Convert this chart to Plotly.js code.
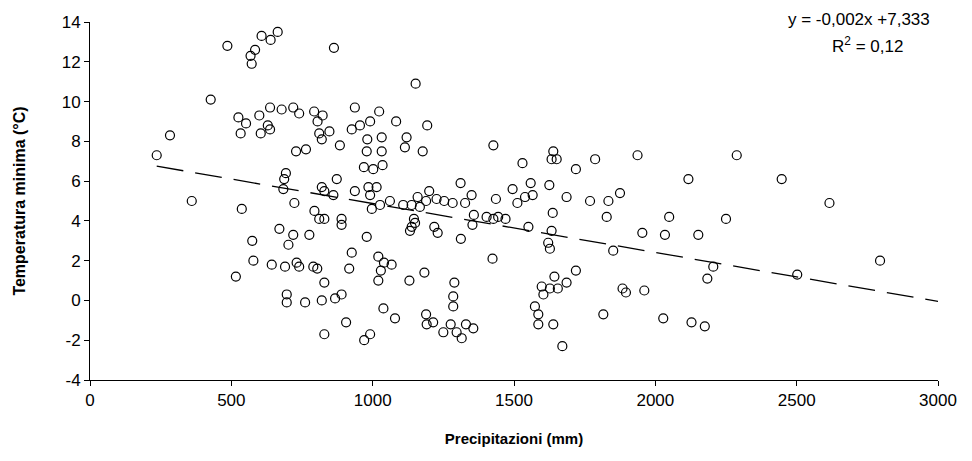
<!DOCTYPE html>
<html>
<head>
<meta charset="utf-8">
<script src="https://cdn.plot.ly/plotly-3.0.1.min.js"></script>
<style>html,body{margin:0;padding:0;background:#fff;}#chart{width:972px;height:461px;}</style>
</head>
<body>
<div id="chart"></div>
<script>
// Precipitazioni (mm)
const precip = [
 486,607,664,639,584,568,572,427,283,525,552,533,599,637,629,637,604,678,719,740,793,823,805,811,820,
 863,1152,937,1023,1083,1193,991,955,926,847,981,1032,1120,1427,884,
 236,360,537,729,764,693,687,684,723,820,829,794,811,829,670,719,776,702,574,578,643,690,731,740,790,804,
 516,829,696,696,761,820,829,
 979,1032,1114,1177,969,1002,1035,873,861,937,985,1014,991,1026,997,1061,1108,1138,1159,1200,1189,1167,1226,1253,1283,
 1311,1350,1327,1436,1495,1512,1530,1146,1150,1138,1132,1218,1230,1358,1353,1403,1427,1444,1470,890,890,1312,979,926,1020,1040,1067,1424,
 917,1029,1020,1130,1183,1289,1285,1285,867,890,1038,1079,906,991,970,1189,1214,1191,1276,1250,1297,1330,1356,1315,
 1639,1633,1651,1719,1787,1937,2117,1559,1625,
 1539,1566,1686,1769,1834,1875,1828,2049,1637,1551,1633,1621,1627,1954,2034,2152,1851,1719,1643,1598,1627,1655,1686,1604,1884,1896,1961,
 1574,1586,1586,1639,1816,2028,2128,2175,1671,
 2288,2447,2616,2250,2205,2184,2502,2795
];
// Temperatura minima (°C)
const tminima = [
 12.8,13.3,13.5,13.1,12.6,12.3,11.9,10.1,8.3,9.2,8.9,8.4,9.3,9.7,8.8,8.6,8.4,9.6,9.7,9.4,9.5,9.3,9.0,8.4,8.1,
 12.7,10.9,9.7,9.5,9.0,8.8,9.0,8.8,8.6,8.5,8.1,8.2,8.2,7.8,7.8,
 7.3,5.0,4.6,7.5,7.6,6.4,6.1,5.6,4.9,5.7,5.5,4.5,4.1,4.1,3.6,3.3,3.3,2.8,3.0,2.0,1.8,1.7,1.9,1.7,1.7,1.6,
 1.2,0.9,0.3,-0.1,-0.1,0.0,-1.7,
 7.5,7.5,7.7,7.5,6.7,6.6,6.8,6.1,5.3,5.5,5.7,5.7,5.3,4.8,4.6,5.0,4.8,4.8,5.2,5.5,5.0,4.7,5.1,5.0,4.9,
 5.9,5.3,4.9,5.1,5.6,4.9,6.9,4.1,3.9,3.7,3.5,3.7,3.4,4.3,3.8,4.2,4.1,4.2,4.1,4.1,3.8,3.1,3.2,2.4,2.2,1.9,1.8,2.1,
 1.6,1.5,1.0,1.0,1.4,0.9,0.2,-0.3,0.1,0.3,-0.4,-0.9,-1.1,-1.7,-2.0,-0.7,-1.1,-1.2,-1.2,-1.6,-1.6,-1.2,-1.4,-1.9,
 7.5,7.1,7.1,6.6,7.1,7.3,6.1,5.9,5.8,
 5.2,5.3,5.2,5.0,5.0,5.4,4.2,4.2,4.4,3.7,3.5,2.9,2.6,3.4,3.3,3.3,2.5,1.5,1.2,0.7,0.6,0.6,0.9,0.3,0.6,0.4,0.5,
 -0.3,-0.7,-1.2,-1.2,-0.7,-0.9,-1.1,-1.3,-2.3,
 7.3,6.1,4.9,4.1,1.7,1.1,1.3,2.0
];
// Linear trend (drawn regression line)
const trendSlope = -0.00246;
const trendIntercept = 7.333;
const trendX = [236, 3000];
const trendY = trendX.map(x => trendIntercept + trendSlope * x);

const xTicks = [0, 500, 1000, 1500, 2000, 2500, 3000];
const yTicks = [-4, -2, 0, 2, 4, 6, 8, 10, 12, 14];
const eqText = 'y = -0,002x +7,333';
const r2Text = 'R<sup>2</sup> = 0,12';

const FONT = '"Liberation Sans", Arial, sans-serif';

const data = [
  {
    x: precip, y: tminima, type: 'scatter', mode: 'markers',
    marker: {symbol: 'circle-open', size: 9, color: '#000', line: {width: 1.2, color: '#000'}},
    hoverinfo: 'x+y', showlegend: false
  },
  {
    x: trendX, y: trendY, type: 'scatter', mode: 'lines',
    line: {color: '#000', width: 1.3, dash: '27px,12px'},
    hoverinfo: 'skip', showlegend: false
  }
];

const layout = {
  width: 972, height: 461,
  margin: {l: 90, r: 34, t: 22, b: 81},
  paper_bgcolor: '#fff', plot_bgcolor: '#fff',
  font: {family: FONT, color: '#000', size: 17},
  showlegend: false,
  xaxis: {
    range: [0, 3000], tickvals: xTicks, ticktext: xTicks.map(String),
    showline: true, linecolor: '#000', linewidth: 1, showgrid: false, zeroline: false,
    ticks: 'outside', ticklen: 5, tickcolor: '#000', tickwidth: 1,
    tickfont: {family: FONT, size: 17, color: '#000'},
    title: {text: '<b>Precipitazioni (mm)</b>', font: {family: FONT, size: 15, color: '#000'}, standoff: 24},
    automargin: false, fixedrange: true
  },
  yaxis: {
    range: [-4, 14], tickvals: yTicks, ticktext: yTicks.map(String),
    showline: true, linecolor: '#000', linewidth: 1, showgrid: false, zeroline: false,
    ticks: 'outside', ticklen: 5, tickcolor: '#000', tickwidth: 1,
    tickfont: {family: FONT, size: 17, color: '#000'},
    title: {text: '<b>Temperatura minima (°C)</b>', font: {family: FONT, size: 16, color: '#000'}, standoff: 32},
    automargin: false, fixedrange: true
  },
  annotations: [
    {xref: 'paper', yref: 'paper', x: 0.993, y: 1.006, xanchor: 'right', yanchor: 'middle',
     text: eqText, showarrow: false, font: {family: FONT, size: 17, color: '#000'}},
    {xref: 'paper', yref: 'paper', x: 0.917, y: 0.936, xanchor: 'center', yanchor: 'middle',
     text: r2Text, showarrow: false, font: {family: FONT, size: 17, color: '#000'}}
  ]
};

Plotly.newPlot('chart', data, layout, {displayModeBar: false, staticPlot: true});
</script>
</body>
</html>
